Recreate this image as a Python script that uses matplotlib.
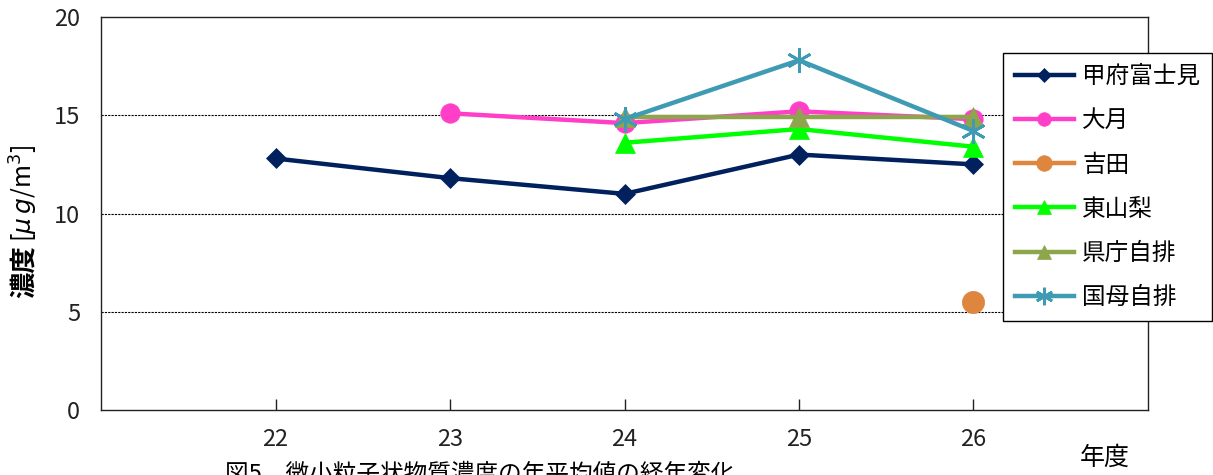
import matplotlib
matplotlib.use("Agg")
import matplotlib.pyplot as plt
import numpy as np

plt.rcParams['font.family'] = ['Noto Sans CJK JP', 'DejaVu Sans']

years = ['22', '23', '24', '25', '26']
kofu_fujimi = [12.8, 11.8, 11.0, 13.0, 12.5]
otsuki = [np.nan, 15.1, 14.6, 15.2, 14.8]
yoshida = [np.nan, np.nan, np.nan, np.nan, 5.5]
higashi_yamanashi = [np.nan, np.nan, 13.6, 14.3, 13.4]
kencho_jihai = [np.nan, np.nan, 14.9, 14.9, 14.9]
kubo_jihai = [np.nan, np.nan, 14.8, 17.8, 14.2]

series = [
    ('甲府富士見', kofu_fujimi, '#00215E', 'D', 10),
    ('大月', otsuki, '#FF3FC8', 'o', 14),
    ('吉田', yoshida, '#DE853E', 'o', 16),
    ('東山梨', higashi_yamanashi, '#00FF00', '^', 14),
    ('県庁自排', kencho_jihai, '#8DA64C', '^', 14),
    ('国母自排', kubo_jihai, '#3F9AB4', (6, 2, 0), 18),
]

fig = plt.figure(figsize=(12.13, 4.75), dpi=100)
ax = fig.add_axes([0.0833, 0.1368, 0.8631, 0.8274])

x = np.arange(1, len(years) + 1)
for name, vals, color, marker, ms in series:
    ax.plot(x, vals, color=color, linewidth=3.2, marker=marker, markersize=ms,
            markeredgewidth=2 if marker == (6, 2, 0) else 0.5,
            markeredgecolor=color, label=name)

ax.set_xlim(0, 6)
ax.set_ylim(0, 20)
ax.set_xticks(x)
ax.set_xticklabels(years)
ax.set_yticks([0, 5, 10, 15, 20])
ax.tick_params(axis='x', direction='in', length=8, width=1, pad=13, labelsize=17, colors='#222222')
ax.tick_params(axis='y', length=0, pad=15, labelsize=17, colors='#222222')
for yv in [5, 10, 15]:
    ax.axhline(yv, color='black', linewidth=0.8, linestyle=(0, (2, 1)), zorder=0)
for sp in ax.spines.values():
    sp.set_color('#222222')
    sp.set_linewidth(1)

# y axis label: bold 濃度 plus unit
fig.text(24 / 1213, 1 - 298 / 475, '濃度', fontsize=19, fontweight='bold',
         rotation=90, ha='center', va='bottom')
fig.text(24 / 1213, 1 - 242 / 475, '[$\\mu\\, g$/m$^3$]', fontsize=18,
         rotation=90, ha='center', va='bottom')

leg = ax.legend(loc='upper left', bbox_to_anchor=(0.827, 0.888),
                bbox_transform=fig.transFigure, fontsize=17, frameon=True,
                fancybox=False, edgecolor='black', framealpha=1,
                handlelength=2.5, labelspacing=0.9, borderpad=0.5,
                handletextpad=0.35, markerscale=0.7, borderaxespad=0)
leg.get_frame().set_linewidth(1)

fig.text(1105 / 1213, 1 - 458 / 475, '年度', fontsize=18, ha='center', va='center')
fig.text(225 / 1213, 1 - 463 / 475, '図5　微小粒子状物質濃度の年平均値の経年変化',
         fontsize=17, ha='left', va='top')

fig.savefig('out.png', dpi=100)
